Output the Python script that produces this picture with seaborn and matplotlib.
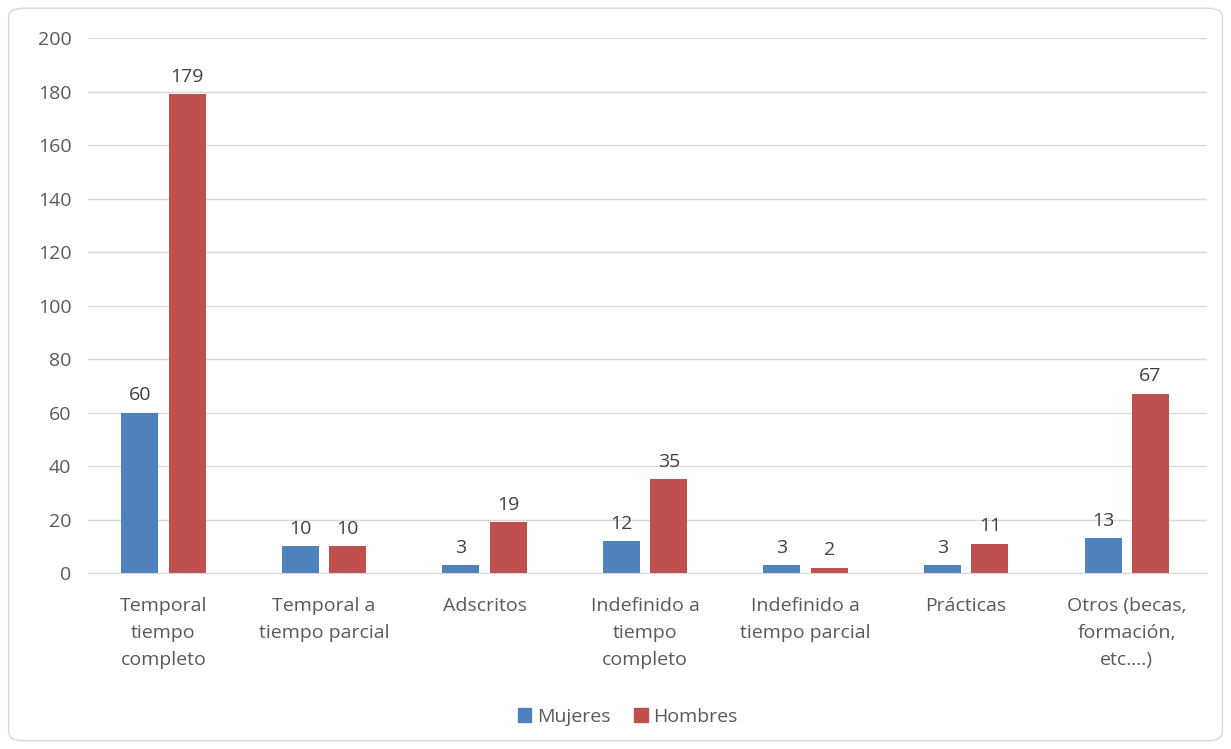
import numpy as np
import pandas as pd
import matplotlib
matplotlib.use("Agg")
import matplotlib.pyplot as plt
import seaborn as sns
from matplotlib.patches import FancyBboxPatch, Patch

categories = ["Temporal\ntiempo\ncompleto", "Temporal a\ntiempo parcial", "Adscritos",
              "Indefinido a\ntiempo\ncompleto", "Indefinido a\ntiempo parcial", "Prácticas",
              "Otros (becas,\nformación,\netc.…)"]
mujeres = [60, 10, 3, 12, 3, 3, 13]
hombres = [179, 10, 19, 35, 2, 11, 67]
series = ["Mujeres", "Hombres"]
colors = ["#4F81BD", "#C0504D"]
yticks = list(range(0, 201, 20))


def main():
    df = pd.DataFrame({
        "cat": categories * 2,
        "serie": [series[0]] * len(categories) + [series[1]] * len(categories),
        "val": mujeres + hombres,
    })

    sns.set_style("white")
    plt.rcParams["font.family"] = ["Open Sans", "DejaVu Sans"]

    fig = plt.figure(figsize=(12.31, 7.49), dpi=100)
    ax = fig.add_axes([0.0715, 0.235, 0.909, 0.714])

    sns.barplot(df, x="cat", y="val", hue="serie", palette=colors, width=0.59, gap=0.22,
                ax=ax, legend=False, saturation=1, linewidth=0)

    for cont in ax.containers:
        ax.bar_label(cont, padding=6, fontsize=14, color="#404040")

    ax.set_ylim(0, 200)
    ax.set_xlim(-0.47, len(categories) - 0.5)
    ax.set_yticks(yticks)
    ax.yaxis.grid(True, color="#D9D9D9", linewidth=1)
    ax.set_axisbelow(True)
    for s in ["top", "right", "left"]:
        ax.spines[s].set_visible(False)
    ax.spines["bottom"].set_color("#D9D9D9")
    ax.tick_params(axis="both", length=0, labelsize=14, labelcolor="#595959")
    ax.tick_params(axis="x", pad=17)
    ax.tick_params(axis="y", pad=12)
    ax.set_xlabel("")
    ax.set_ylabel("")
    for lbl in ax.get_xticklabels():
        lbl.set_linespacing(1.65)

    handles = [Patch(color=c, label=s) for c, s in zip(colors, series)]
    fig.legend(handles=handles, loc="center", bbox_to_anchor=(0.51, 0.043), ncol=2,
               frameon=False, fontsize=14, handlelength=0.7, handleheight=0.7,
               handletextpad=0.3, columnspacing=1.2, labelcolor="#595959")

    border = FancyBboxPatch((0.007, 0.011), 0.986, 0.978, boxstyle="round,pad=0,rounding_size=0.012",
                            transform=fig.transFigure, fill=False, edgecolor="#D9D9D9", linewidth=1)
    fig.patches.append(border)

    plt.savefig("out.png", dpi=100)
    plt.close()


if __name__ == "__main__":
    main()
